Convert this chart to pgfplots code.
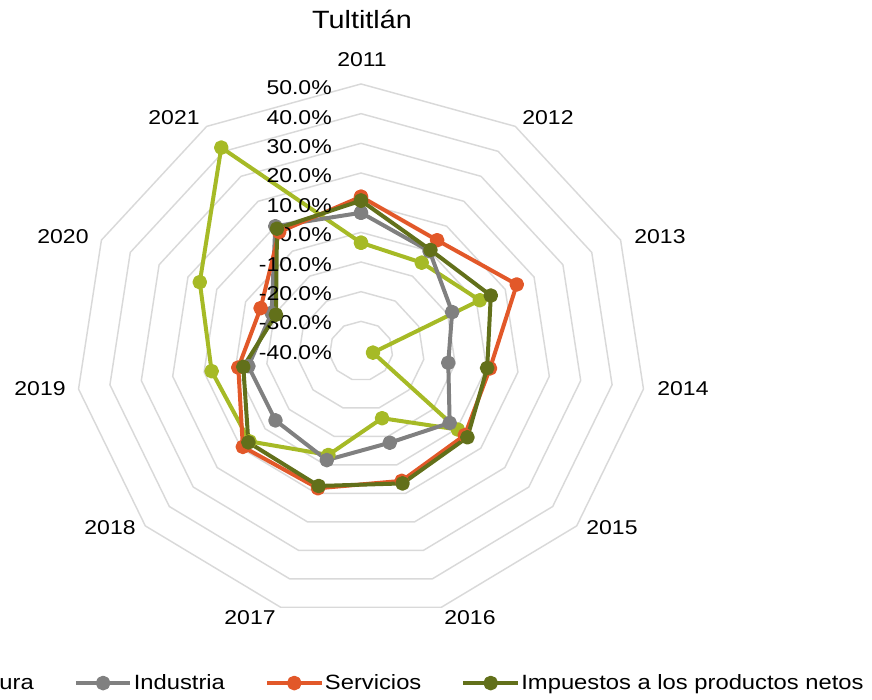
\documentclass[border=0pt]{standalone}
\usepackage{fontspec}
\setmainfont{Liberation Sans}[FakeStretch=1.15]
\usepackage{pgfplots}
\usepackage{pgfplotstable}
\pgfplotsset{compat=1.18}

\definecolor{cagr}{RGB}{166,186,38}
\definecolor{cind}{RGB}{128,128,128}
\definecolor{cser}{RGB}{226,88,41}
\definecolor{cimp}{RGB}{98,112,26}
\definecolor{ring}{RGB}{217,217,217}

% k = 0 (2011) ... 10 (2021); row 11 repeats 2011 to close the polygon
\pgfplotstableread{
k  agr    ind    ser    imp
0  -3.5   6.6    12.0   10.7
1  -4.6   0.0    4.4    0.5
2  1.2    -8.4   14.0   5.0
3  -36.2  -12.2  1.1    0.2
4  0.4    -3.0   3.3    4.4
5  -16.4  -7.8   5.6    6.5
6  -3.5   -1.7   8.2    7.4
7  6.5    -4.3   9.3    7.0
8  7.6    -4.1   -0.9   -2.5
9  15.9   -9.0   -5.2   -10.5
10 41.5   10.0   7.7    9.0
11 -3.5   6.6    12.0   10.7
}\radar

\begin{document}
\begin{tikzpicture}
\begin{axis}[
  x=2.378pt, y=2.2253pt,
  xmin=-113.85, xmax=161.15, ymin=-117.6, ymax=118.3,
  axis lines=none, clip=false, set layers,
  every axis plot/.append style={line width=3pt, line join=round, mark=*, mark size=4pt},
  legend columns=4,
  legend style={at={(axis cs:159,-111.9)}, anchor=east, draw=none, fill=none,
    inner sep=0pt, font=\fontsize{15.5}{18}\selectfont,
    nodes={inner sep=1pt},
    /tikz/every even column/.append style={column sep=29pt}},
  legend image code/.code={\draw[mark repeat=2,mark phase=2,#1]
    plot coordinates {(0pt,0pt) (20.5pt,0pt) (41pt,0pt)};},
]
\begin{pgfonlayer}{axis background}
\pgfplotsinvokeforeach{10,20,...,90}{
  \draw[ring, line width=1.1pt] (axis cs:0,#1)
    \foreach \k in {1,...,10}{ -- (axis cs:{#1*cos(90-\k*360/11)},{#1*sin(90-\k*360/11)}) } -- cycle;
}
\end{pgfonlayer}

\addplot[cagr] table[x expr={(\thisrow{agr}+40)*cos(90-\thisrow{k}*360/11)},
  y expr={(\thisrow{agr}+40)*sin(90-\thisrow{k}*360/11)}] {\radar};
\addlegendentry{Agricultura}
\addplot[cind] table[x expr={(\thisrow{ind}+40)*cos(90-\thisrow{k}*360/11)},
  y expr={(\thisrow{ind}+40)*sin(90-\thisrow{k}*360/11)}] {\radar};
\addlegendentry{Industria}
\addplot[cser] table[x expr={(\thisrow{ser}+40)*cos(90-\thisrow{k}*360/11)},
  y expr={(\thisrow{ser}+40)*sin(90-\thisrow{k}*360/11)}] {\radar};
\addlegendentry{Servicios}
\addplot[cimp] table[x expr={(\thisrow{imp}+40)*cos(90-\thisrow{k}*360/11)},
  y expr={(\thisrow{imp}+40)*sin(90-\thisrow{k}*360/11)}] {\radar};
\addlegendentry{Impuestos a los productos netos}

% radial tick labels
\pgfplotsinvokeforeach{-40,-30,...,50}{
  \node[anchor=east, inner sep=0pt, font=\fontsize{15}{18}\selectfont]
    at (axis cs:-9.15,{(#1+40)*0.991-0.5}) {#1.0\%};
}

% category labels
\begin{scope}[every node/.style={inner sep=0pt, font=\fontsize{15}{18}\selectfont}]
\node at (axis cs:0.32,98.08) {2011};
\node at (axis cs:58.97,78.53) {2012};
\node at (axis cs:94.29,38.42) {2013};
\node at (axis cs:101.54,-12.81) {2014};
\node at (axis cs:79.15,-59.66) {2015};
\node at (axis cs:34.37,-89.99) {2016};
\node at (axis cs:-35.0,-89.99) {2017};
\node at (axis cs:-79.15,-59.66) {2018};
\node at (axis cs:-101.23,-12.81) {2019};
\node at (axis cs:-93.98,38.42) {2020};
\node at (axis cs:-58.97,78.53) {2021};
\end{scope}

\node[inner sep=0pt, font=\fontsize{18.75}{22}\selectfont] at (axis cs:0.32,111.9) {Tultitlán};
\end{axis}
\pgfresetboundingbox
\useasboundingbox (current axis.south west) rectangle (current axis.north east);
\end{tikzpicture}
\end{document}
